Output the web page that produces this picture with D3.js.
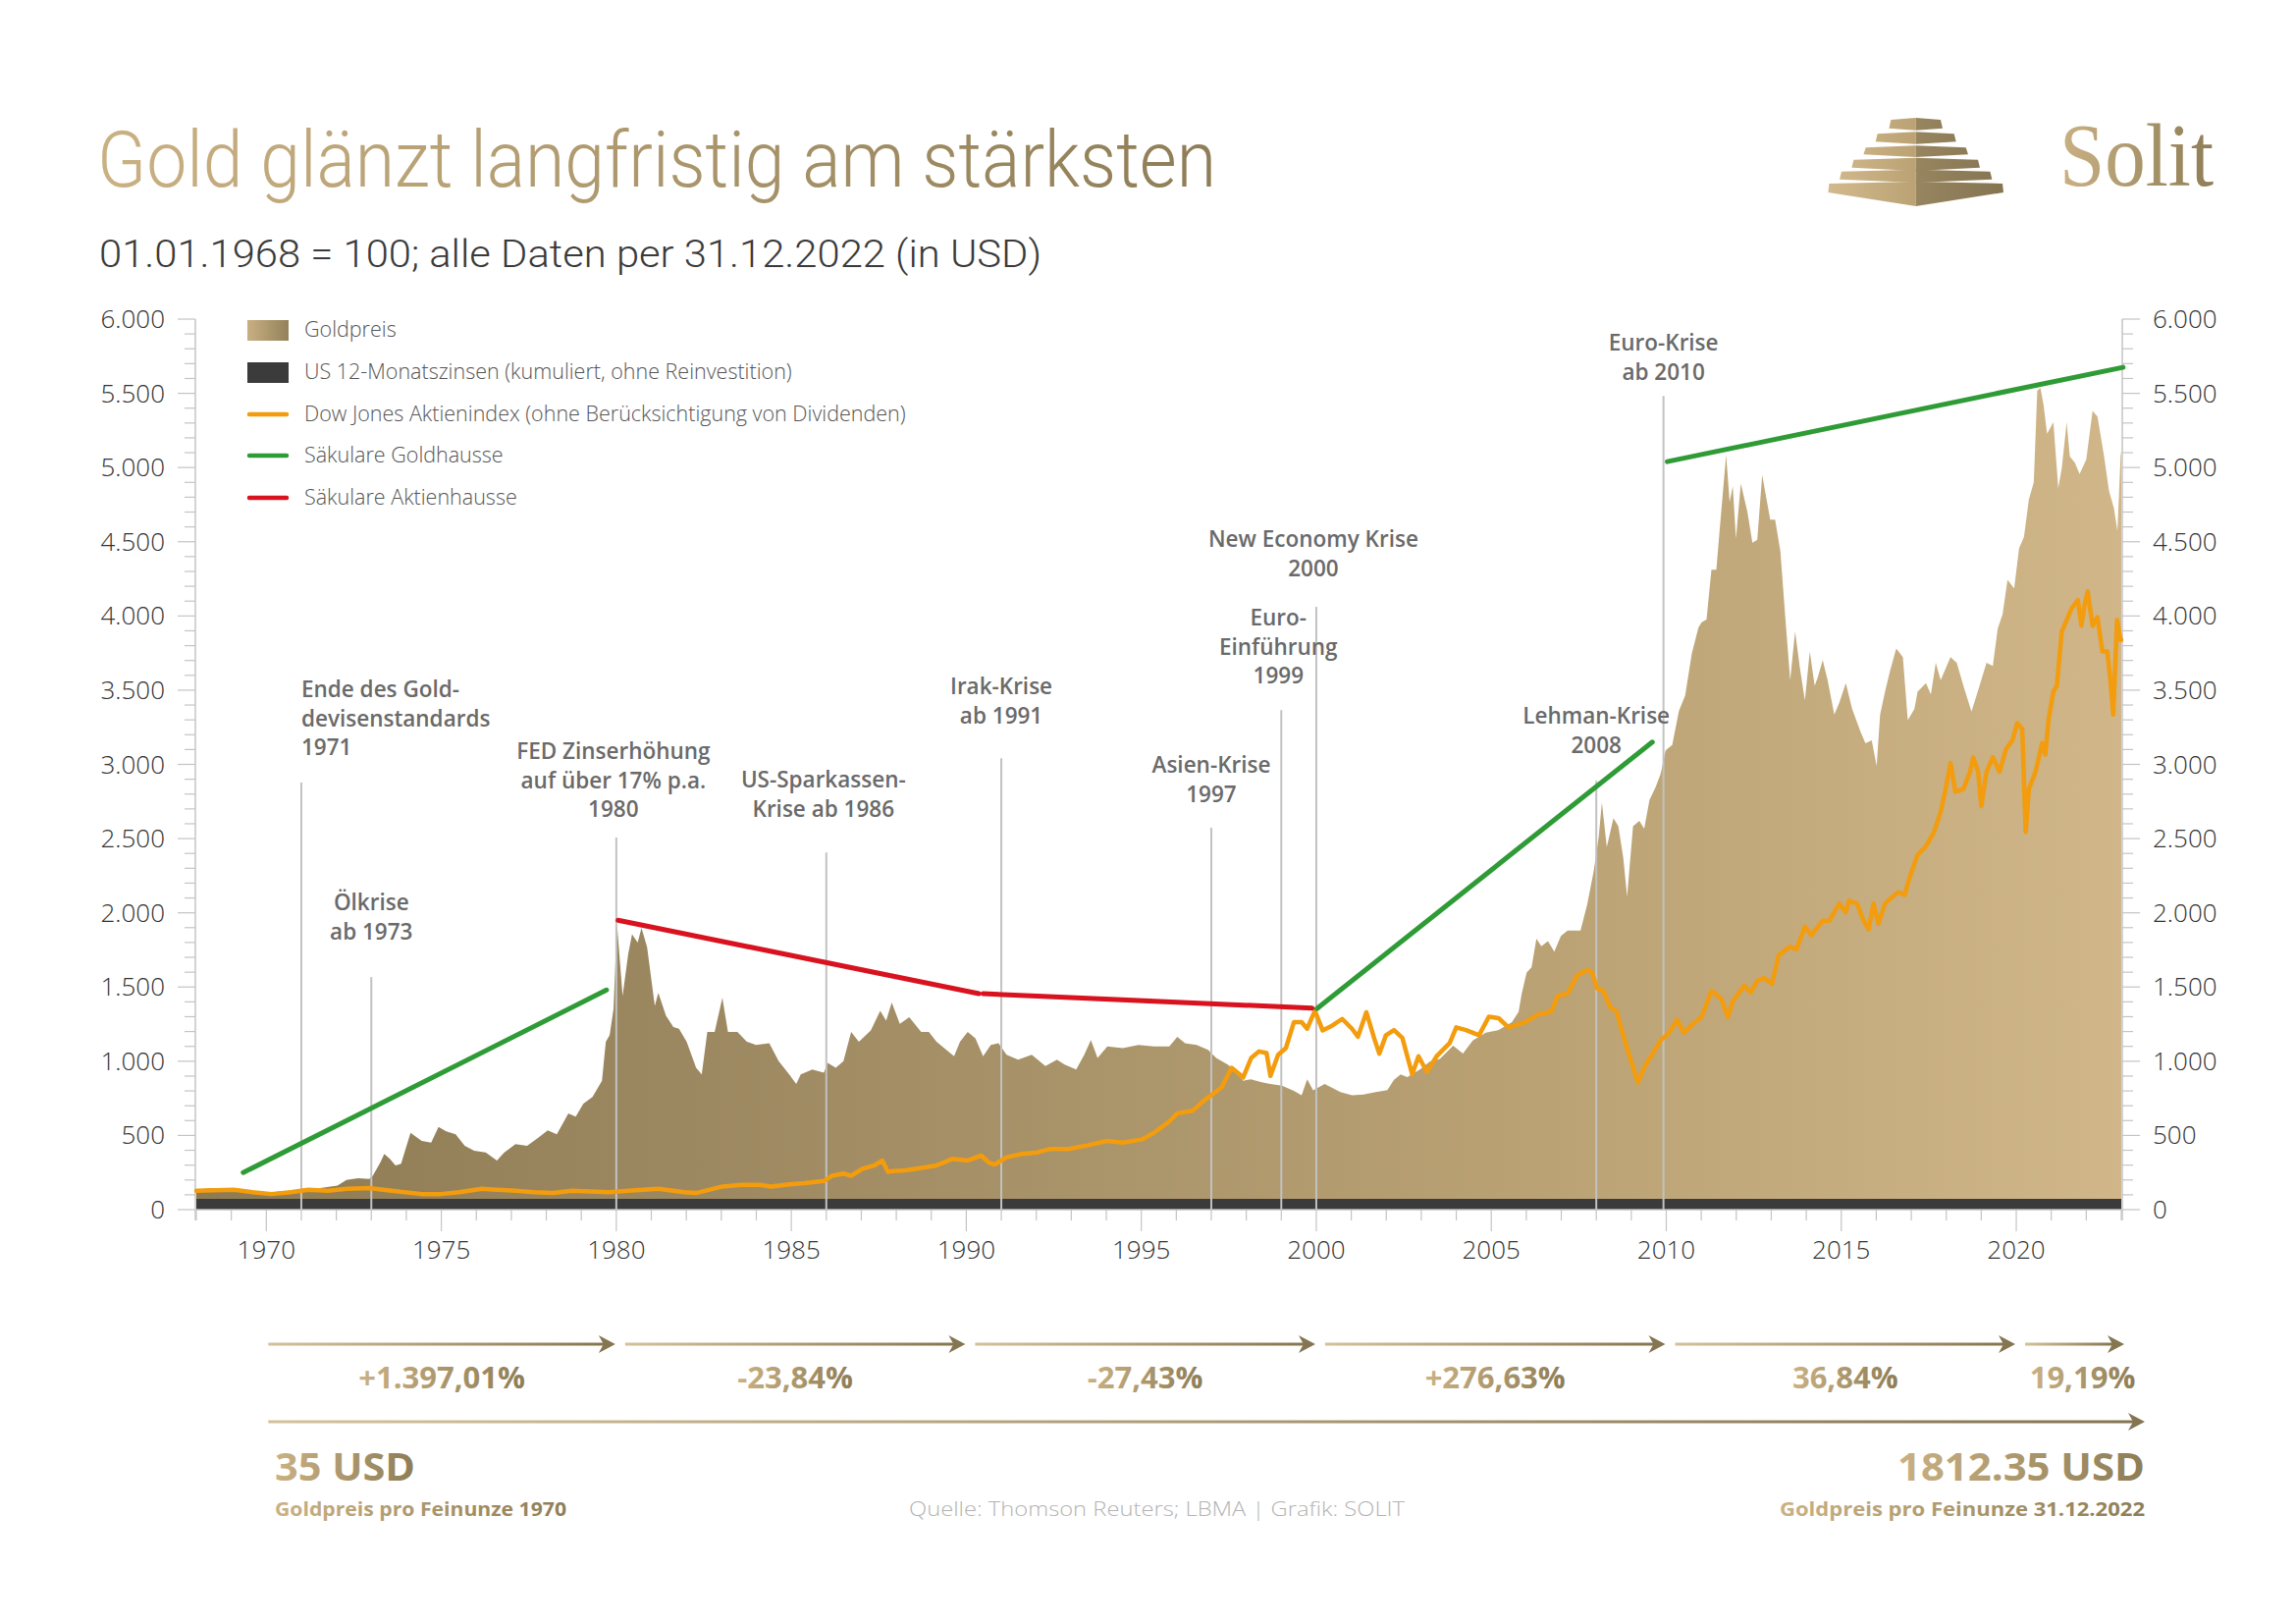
<!DOCTYPE html>
<html><head><meta charset="utf-8">
<script src="https://cdn.jsdelivr.net/npm/d3@7"></script>
<style>body{margin:0;background:#fff}svg{display:block}</style>
</head><body><svg id="c" width="2339" height="1654"></svg>
<script>
// ---------------- DATA ----------------
const goldSeries = [[1968.00,134],[1968.43,145],[1968.94,140],[1969.40,134],[1969.72,123],[1970.15,118],[1970.68,127],[1971.01,140],[1971.54,145],[1972.03,162],[1972.29,200],[1972.62,211],[1972.94,207],[1973.05,232],[1973.26,320],[1973.37,375],[1973.53,342],[1973.69,298],[1973.85,309],[1974.12,518],[1974.44,463],[1974.71,452],[1974.92,557],[1975.14,528],[1975.41,507],[1975.67,430],[1975.94,397],[1976.27,386],[1976.59,331],[1976.80,386],[1977.12,441],[1977.45,430],[1977.77,485],[1978.04,535],[1978.30,507],[1978.63,649],[1978.84,627],[1979.06,715],[1979.32,759],[1979.59,868],[1979.70,1132],[1979.81,1176],[1979.92,1351],[1980.02,1921],[1980.18,1439],[1980.34,1724],[1980.45,1855],[1980.61,1800],[1980.72,1899],[1980.88,1768],[1981.10,1373],[1981.20,1461],[1981.42,1307],[1981.63,1230],[1981.79,1219],[1982.01,1132],[1982.28,956],[1982.44,912],[1982.60,1197],[1982.81,1197],[1983.03,1428],[1983.19,1197],[1983.46,1197],[1983.73,1132],[1983.99,1110],[1984.37,1121],[1984.64,1000],[1984.94,912],[1985.14,847],[1985.27,912],[1985.60,945],[1985.93,923],[1986.04,989],[1986.27,956],[1986.49,1000],[1986.71,1197],[1986.93,1132],[1987.27,1208],[1987.54,1340],[1987.71,1274],[1987.87,1395],[1988.10,1252],[1988.37,1296],[1988.71,1197],[1988.93,1197],[1989.15,1132],[1989.43,1077],[1989.65,1033],[1989.82,1132],[1990.04,1197],[1990.26,1154],[1990.48,1033],[1990.70,1110],[1990.92,1121],[1991.15,1044],[1991.48,1011],[1991.87,1044],[1992.26,967],[1992.59,1011],[1992.81,978],[1993.14,945],[1993.37,1044],[1993.56,1143],[1993.75,1022],[1994.03,1099],[1994.47,1088],[1994.92,1110],[1995.36,1099],[1995.80,1099],[1996.03,1165],[1996.25,1121],[1996.58,1110],[1996.91,1077],[1997.14,1022],[1997.47,978],[1997.69,934],[1997.91,868],[1998.13,879],[1998.47,857],[1998.69,847],[1999.02,835],[1999.36,800],[1999.58,770],[1999.74,879],[1999.91,803],[2000.24,846],[2000.69,792],[2001.02,770],[2001.35,775],[2001.66,790],[2002.03,805],[2002.22,875],[2002.41,911],[2002.60,893],[2002.97,946],[2003.25,999],[2003.53,1016],[2003.91,1104],[2004.19,1051],[2004.47,1139],[2004.84,1192],[2005.21,1210],[2005.59,1263],[2005.78,1333],[2005.87,1456],[2006.01,1597],[2006.15,1633],[2006.29,1826],[2006.43,1774],[2006.62,1809],[2006.80,1738],[2006.99,1844],[2007.18,1880],[2007.55,1880],[2007.74,2056],[2007.93,2285],[2008.07,2514],[2008.16,2743],[2008.30,2443],[2008.49,2637],[2008.63,2584],[2008.77,2373],[2008.88,2109],[2009.05,2584],[2009.23,2619],[2009.37,2566],[2009.52,2761],[2009.70,2849],[2009.84,2937],[2009.98,3095],[2010.17,3130],[2010.36,3359],[2010.54,3465],[2010.73,3747],[2010.92,3923],[2011.01,3958],[2011.15,3976],[2011.29,4311],[2011.43,4311],[2011.53,4593],[2011.62,4839],[2011.71,5086],[2011.81,4768],[2011.90,4874],[2011.99,4522],[2012.13,4892],[2012.32,4698],[2012.46,4494],[2012.60,4514],[2012.74,4950],[2012.97,4649],[2013.11,4649],[2013.26,4436],[2013.40,3992],[2013.54,3568],[2013.68,3896],[2013.82,3645],[2013.96,3432],[2014.10,3761],[2014.24,3529],[2014.33,3587],[2014.47,3703],[2014.61,3568],[2014.80,3336],[2014.94,3413],[2015.13,3548],[2015.31,3374],[2015.55,3220],[2015.69,3143],[2015.87,3162],[2016.01,2989],[2016.11,3336],[2016.25,3490],[2016.39,3626],[2016.57,3780],[2016.76,3722],[2016.90,3297],[2017.09,3374],[2017.18,3490],[2017.42,3548],[2017.56,3471],[2017.70,3684],[2017.84,3568],[2018.12,3722],[2018.30,3684],[2018.49,3529],[2018.72,3355],[2018.95,3529],[2019.15,3684],[2019.33,3664],[2019.47,3915],[2019.61,4012],[2019.75,4243],[2019.94,4186],[2020.08,4456],[2020.22,4533],[2020.36,4784],[2020.50,4900],[2020.60,5517],[2020.69,5537],[2020.78,5421],[2020.88,5228],[2021.06,5305],[2021.20,4861],[2021.30,4996],[2021.44,5305],[2021.53,5074],[2021.67,5035],[2021.81,4957],[2022.00,5054],[2022.18,5382],[2022.32,5343],[2022.51,5074],[2022.65,4842],[2022.79,4726],[2022.89,4572],[2022.98,5074],[2023.04,5112]];

const dowSeries = [[1968.00,127],[1969.07,134],[1969.60,118],[1970.15,105],[1970.70,118],[1971.20,134],[1971.76,127],[1972.30,140],[1972.94,145],[1973.58,127],[1974.44,105],[1974.98,105],[1975.51,118],[1976.16,140],[1976.59,134],[1977.12,127],[1977.66,118],[1978.20,112],[1978.73,127],[1979.27,123],[1979.80,118],[1980.34,127],[1981.20,140],[1981.95,118],[1982.28,112],[1983.03,156],[1983.57,167],[1984.10,167],[1984.42,156],[1984.94,171],[1985.38,178],[1985.93,193],[1986.16,228],[1986.49,243],[1986.71,228],[1987.04,276],[1987.38,298],[1987.60,331],[1987.76,254],[1987.88,260],[1988.26,265],[1988.71,281],[1989.15,298],[1989.60,342],[1990.04,331],[1990.43,364],[1990.65,316],[1990.81,303],[1991.15,353],[1991.59,375],[1992.03,386],[1992.37,408],[1992.92,408],[1993.48,434],[1994.03,463],[1994.47,452],[1995.03,474],[1995.36,518],[1995.80,594],[1996.03,649],[1996.47,667],[1996.80,737],[1997.03,776],[1997.30,825],[1997.58,956],[1997.75,923],[1997.91,890],[1998.14,1022],[1998.36,1066],[1998.58,1055],[1998.69,901],[1998.91,1044],[1999.13,1088],[1999.36,1263],[1999.58,1263],[1999.74,1219],[1999.96,1340],[2000.18,1208],[2000.46,1241],[2000.74,1285],[2001.02,1219],[2001.19,1165],[2001.43,1330],[2001.66,1150],[2001.80,1051],[2001.99,1175],[2002.22,1210],[2002.46,1157],[2002.74,911],[2002.92,1034],[2003.16,928],[2003.44,1034],[2003.81,1122],[2004.00,1228],[2004.28,1210],[2004.65,1175],[2004.93,1300],[2005.21,1290],[2005.49,1228],[2005.96,1263],[2006.34,1316],[2006.71,1333],[2006.90,1439],[2007.18,1456],[2007.46,1580],[2007.74,1615],[2007.88,1597],[2008.02,1492],[2008.20,1474],[2008.39,1368],[2008.58,1333],[2008.77,1175],[2008.95,1034],[2009.19,857],[2009.42,981],[2009.61,1051],[2009.84,1140],[2010.08,1192],[2010.31,1280],[2010.50,1192],[2010.73,1245],[2011.01,1298],[2011.29,1474],[2011.57,1421],[2011.76,1298],[2011.90,1404],[2012.23,1509],[2012.41,1463],[2012.60,1541],[2012.79,1560],[2013.02,1521],[2013.21,1714],[2013.54,1772],[2013.72,1753],[2013.96,1907],[2014.14,1849],[2014.47,1946],[2014.66,1946],[2014.94,2062],[2015.13,2004],[2015.22,2081],[2015.45,2062],[2015.64,1946],[2015.78,1888],[2015.92,2062],[2016.06,1927],[2016.25,2062],[2016.43,2101],[2016.62,2139],[2016.81,2120],[2016.95,2236],[2017.18,2390],[2017.42,2448],[2017.65,2545],[2017.84,2680],[2017.98,2834],[2018.12,3008],[2018.26,2815],[2018.49,2834],[2018.68,2950],[2018.77,3047],[2018.91,2950],[2019.00,2718],[2019.15,2950],[2019.33,3047],[2019.52,2950],[2019.71,3104],[2019.89,3162],[2020.03,3278],[2020.17,3239],[2020.27,2545],[2020.36,2834],[2020.55,2950],[2020.74,3143],[2020.83,3066],[2020.92,3297],[2021.06,3490],[2021.16,3529],[2021.30,3896],[2021.58,4050],[2021.76,4108],[2021.86,3934],[2021.95,4070],[2022.04,4166],[2022.18,3934],[2022.32,3992],[2022.46,3761],[2022.60,3761],[2022.69,3568],[2022.77,3336],[2022.88,3973],[2022.98,3838],[2023.04,3838]];

const zinsSeries = [[1968.0,72],[2023.0,72]];

const goldHausse = [
  [[1969.34,250],[1979.72,1480]],
  [[2000.02,1355],[2009.60,3150]],
  [[2010.03,5040],[2023.05,5675]]
];
const aktienHausse = [
  [[1980.05,1950],[1990.36,1455]],
  [[1990.48,1455],[1999.88,1358]]
];

const eventYears = [1971, 1973, 1980, 1986, 1991, 1997, 1999, 2000, 2008, 2009.92];
const eventLineTops = [2877, 1567, 2507, 2407, 3042, 2573, 3366, 4061, 2890, 5483];
const eventTexts = [
  ["Ende des Gold-","devisenstandards","1971"],
  ["Ölkrise","ab 1973"],
  ["FED Zinserhöhung","auf über 17% p.a.","1980"],
  ["US-Sparkassen-","Krise ab 1986"],
  ["Irak-Krise","ab 1991"],
  ["Asien-Krise","1997"],
  ["Euro-","Einführung","1999"],
  ["New Economy Krise","2000"],
  ["Lehman-Krise","2008"],
  ["Euro-Krise","ab 2010"]
];

const yTickValues = d3.range(0, 6001, 500);
const yTickLabels = ["0","500","1.000","1.500","2.000","2.500","3.000","3.500","4.000","4.500","5.000","5.500","6.000"];
const xLabelYears = [1970,1975,1980,1985,1990,1995,2000,2005,2010,2015,2020];

const periodStarts = [1970,1980,1990,2000,2010,2020];
const periodEnds   = [1980,1990,2000,2010,2020,2023];
const periodReturns = ["+1.397,01%","-23,84%","-27,43%","+276,63%","36,84%","19,19%"];

const legendItems = [
  "Goldpreis",
  "US 12-Monatszinsen (kumuliert, ohne Reinvestition)",
  "Dow Jones Aktienindex (ohne Berücksichtigung von Dividenden)",
  "Säkulare Goldhausse",
  "Säkulare Aktienhausse"
];

// ---------------- LAYOUT ----------------
const eventLabelBase = [710, 927, 773, 802, 707, 787, 637, 557, 737, 357];
const eventAnchor = ["start","middle","middle","middle","middle","middle","middle","middle","middle","middle"];
const eventShift = [0, 0, -3, -3, 0, 0, -3, -3, 0, 0];

const svg = d3.select("#c");
const x = d3.scaleLinear().domain([1968, 2023]).range([200, 2161]);
const y = d3.scaleLinear().domain([0, 6000]).range([1232, 325]);

const defs = svg.append("defs");
function grad(id, stops, attrs) {
  const g = defs.append("linearGradient").attr("id", id);
  Object.entries(attrs || {x1:0,y1:0,x2:1,y2:0}).forEach(([k,v]) => g.attr(k, v));
  stops.forEach(([o,c]) => g.append("stop").attr("offset", o).attr("stop-color", c));
}
grad("areaGrad", [[0,"#8d7b54"],[0.35,"#a28d65"],[0.7,"#baa274"],[1,"#d0b688"]],
     {gradientUnits:"userSpaceOnUse", x1:200, y1:0, x2:2161, y2:0});
grad("textGold", [[0,"#cab183"],[1,"#8e7d56"]]);
grad("swatchGold", [[0,"#c9b083"],[1,"#93815a"]]);
grad("arrowGrad", [[0,"#d3c19b"],[1,"#857550"]]);
grad("logoL", [[0,"#d2ba8e"],[1,"#bba274"]], {gradientUnits:"userSpaceOnUse", x1:1862, y1:0, x2:1952, y2:0});
grad("logoR", [[0,"#978560"],[1,"#857450"]], {gradientUnits:"userSpaceOnUse", x1:1952, y1:0, x2:2042, y2:0});

// ---------------- TITLE ----------------
svg.append("text").attr("x", 99).attr("y", 190)
  .attr("font-family", "Roboto, 'Open Sans', sans-serif").attr("font-weight", 300)
  .attr("font-size", 80).attr("fill", "url(#textGold)")
  .attr("textLength", 1140).attr("lengthAdjust", "spacingAndGlyphs")
  .text("Gold glänzt langfristig am stärksten");
svg.append("text").attr("x", 101).attr("y", 272)
  .attr("font-family", "Roboto, 'Open Sans', sans-serif").attr("font-weight", 300)
  .attr("font-size", 38).attr("fill", "#3a3a3a")
  .attr("textLength", 960).attr("lengthAdjust", "spacingAndGlyphs")
  .text("01.01.1968 = 100; alle Daten per 31.12.2022 (in USD)");

// ---------------- LOGO ----------------
const cx = 1951.7;
const tiers = [
  [120, 25.3, 130.7, 27.3, 132.7],
  [134.3, 39, 144.3, 41, 146.7],
  [148.3, 51, 157.3, 53.3, 160],
  [160.7, 63.3, 170.7, 65.3, 174],
  [172.7, 75.7, 182.7, 77.7, 186],
  [185, 88.3, 196, 89.3, 210]
];
const logo = svg.append("g");
tiers.forEach(([yt, wt, yb, wb, yc]) => {
  logo.append("polygon").attr("fill", "url(#logoL)")
    .attr("points", [[cx-wt, yt+2],[cx, yt],[cx, yc],[cx-wb, yb]].map(p=>p.join(",")).join(" "));
  logo.append("polygon").attr("fill", "url(#logoR)")
    .attr("points", [[cx, yt],[cx+wt, yt+2],[cx+wb, yb],[cx, yc]].map(p=>p.join(",")).join(" "));
});
svg.append("text").attr("x", 2098).attr("y", 189)
  .attr("font-family", "'Liberation Serif', 'DejaVu Serif', serif")
  .attr("font-size", 90).attr("fill", "url(#textGold)")
  .attr("textLength", 157).attr("lengthAdjust", "spacingAndGlyphs")
  .text("Solit");

// ---------------- CHART ----------------
const plot = svg.append("g");

plot.append("path").datum(goldSeries)
  .attr("fill", "url(#areaGrad)")
  .attr("d", d3.area().x(d => x(Math.min(d[0], 2023))).y0(y(0)).y1(d => y(d[1])));

plot.append("path").datum(zinsSeries)
  .attr("fill", "#3b3b3b")
  .attr("d", d3.area().x(d => x(d[0])).y0(y(0)).y1(d => y(d[1])));

const axisColor = "#c4c4c4";
plot.append("line").attr("x1", x(1968)).attr("x2", x(2023)).attr("y1", y(0)).attr("y2", y(0))
  .attr("stroke", axisColor).attr("stroke-width", 1.5);
const years = d3.range(1968, 2024);
plot.selectAll(".xt").data(years).join("line")
  .attr("x1", d => x(d)).attr("x2", d => x(d))
  .attr("y1", y(0)).attr("y2", d => y(0) + (d % 5 === 0 ? 22 : 11))
  .attr("stroke", axisColor).attr("stroke-width", 1.2);
plot.selectAll(".xl").data(xLabelYears).join("text")
  .attr("x", d => x(d)).attr("y", 1282).attr("text-anchor", "middle")
  .attr("font-family", "'Open Sans', sans-serif").attr("font-weight", 300)
  .attr("font-size", 26).attr("fill", "#333").text(d => d);

const minor = d3.range(0, 6001, 100);
[["left", x(1968) - 1], ["right", x(2023) + 1]].forEach(([side, ax]) => {
  const dir = side === "left" ? -1 : 1;
  plot.append("line").attr("x1", ax).attr("x2", ax).attr("y1", y(6000)).attr("y2", y(0) + 11)
    .attr("stroke", axisColor).attr("stroke-width", 1.5);
  plot.selectAll(".yt" + side).data(minor).join("line")
    .attr("x1", ax).attr("x2", d => ax + dir * (d % 500 === 0 ? 18 : 11))
    .attr("y1", d => y(d)).attr("y2", d => y(d))
    .attr("stroke", axisColor).attr("stroke-width", 1.2);
  plot.selectAll(".yl" + side).data(yTickValues).join("text")
    .attr("x", side === "left" ? 168 : 2193)
    .attr("y", d => y(d) + 9)
    .attr("text-anchor", side === "left" ? "end" : "start")
    .attr("font-family", "'Open Sans', sans-serif").attr("font-weight", 300)
    .attr("font-size", 26).attr("fill", "#333")
    .text((d, i) => yTickLabels[i]);
});

plot.selectAll(".ev").data(eventYears).join("line")
  .attr("x1", d => x(d)).attr("x2", d => x(d))
  .attr("y1", y(0)).attr("y2", (d, i) => y(eventLineTops[i]))
  .attr("stroke", "#c2c2c2").attr("stroke-width", 2);

eventYears.forEach((yr, i) => {
  const t = plot.append("text")
    .attr("font-family", "'Open Sans', sans-serif").attr("font-weight", 600)
    .attr("font-size", 22.5).attr("fill", "#6a6a6a")
    .attr("text-anchor", eventAnchor[i]);
  eventTexts[i].forEach((line, j) => {
    t.append("tspan").attr("x", x(yr) + eventShift[i]).attr("y", eventLabelBase[i] + j * 29.5).text(line);
  });
});

plot.append("path").datum(dowSeries)
  .attr("fill", "none").attr("stroke", "#f39c0d").attr("stroke-width", 4.5)
  .attr("stroke-linejoin", "round").attr("stroke-linecap", "round")
  .attr("d", d3.line().x(d => x(Math.min(d[0], 2023))).y(d => y(d[1])));

const tl = d3.line().x(d => x(d[0])).y(d => y(d[1]));
plot.selectAll(".gh").data(goldHausse).join("path")
  .attr("fill", "none").attr("stroke", "#2f9b36").attr("stroke-width", 5)
  .attr("stroke-linecap", "round").attr("d", tl);
plot.selectAll(".ah").data(aktienHausse).join("path")
  .attr("fill", "none").attr("stroke", "#d8131f").attr("stroke-width", 5)
  .attr("stroke-linecap", "round").attr("d", tl);

// ---------------- LEGEND ----------------
const legY = [336, 379, 422, 464, 507];
const leg = svg.append("g");
leg.append("rect").attr("x", 252).attr("y", legY[0] - 10).attr("width", 42).attr("height", 21).attr("fill", "url(#swatchGold)");
leg.append("rect").attr("x", 252).attr("y", legY[1] - 10).attr("width", 42).attr("height", 21).attr("fill", "#3b3b3b");
[["#f39c0d", 2], ["#2f9b36", 3], ["#d8131f", 4]].forEach(([c, i]) => {
  leg.append("line").attr("x1", 254).attr("x2", 292).attr("y1", legY[i]).attr("y2", legY[i])
    .attr("stroke", c).attr("stroke-width", 4.5).attr("stroke-linecap", "round");
});
leg.selectAll(".lt").data(legendItems).join("text")
  .attr("x", 310).attr("y", (d, i) => legY[i] + 7)
  .attr("font-family", "'Open Sans', sans-serif").attr("font-weight", 300)
  .attr("font-size", 21.5).attr("fill", "#555").text(d => d);

// ---------------- BOTTOM ----------------
const bot = svg.append("g");
function arrow(x0, x1, yy) {
  bot.append("rect").attr("x", x0).attr("y", yy - 1.5).attr("width", x1 - x0 - 10).attr("height", 3)
    .attr("fill", "url(#arrowGrad)");
  bot.append("path").attr("fill", "#857550")
    .attr("d", `M${x1},${yy} L${x1-17},${yy-9} L${x1-12},${yy} L${x1-17},${yy+9} Z`);
}
const labelShift = [0,0,0,0,0,8];
periodStarts.forEach((s, i) => {
  const x0 = x(s) + (i === 0 ? 2 : 9);
  const x1 = i === periodStarts.length - 1 ? x(periodEnds[i]) + 3 : x(periodEnds[i]) - 1;
  arrow(x0, x1, 1369);
  bot.append("text").attr("x", (x0 + x1) / 2 + labelShift[i]).attr("y", 1414)
    .attr("text-anchor", "middle")
    .attr("font-family", "'Open Sans', sans-serif").attr("font-weight", 700)
    .attr("font-size", 31).attr("fill", "url(#textGold)").text(periodReturns[i]);
});
arrow(x(1970) + 2, 2185, 1448);

bot.append("text").attr("x", 280).attr("y", 1508)
  .attr("font-family", "'Open Sans', sans-serif").attr("font-weight", 700)
  .attr("font-size", 40).attr("fill", "url(#textGold)")
  .attr("textLength", 143).attr("lengthAdjust", "spacingAndGlyphs").text("35 USD");
bot.append("text").attr("x", 2185).attr("y", 1508).attr("text-anchor", "end")
  .attr("font-family", "'Open Sans', sans-serif").attr("font-weight", 700)
  .attr("font-size", 40).attr("fill", "url(#textGold)")
  .attr("textLength", 252).attr("lengthAdjust", "spacingAndGlyphs").text("1812.35 USD");
bot.append("text").attr("x", 280).attr("y", 1544)
  .attr("font-family", "'Open Sans', sans-serif").attr("font-weight", 700)
  .attr("font-size", 20).attr("fill", "url(#textGold)")
  .attr("textLength", 297).attr("lengthAdjust", "spacingAndGlyphs").text("Goldpreis pro Feinunze 1970");
bot.append("text").attr("x", 2185).attr("y", 1544).attr("text-anchor", "end")
  .attr("font-family", "'Open Sans', sans-serif").attr("font-weight", 700)
  .attr("font-size", 20).attr("fill", "url(#textGold)")
  .attr("textLength", 372).attr("lengthAdjust", "spacingAndGlyphs").text("Goldpreis pro Feinunze 31.12.2022");
bot.append("text").attr("x", 926).attr("y", 1544)
  .attr("font-family", "'Open Sans', sans-serif").attr("font-weight", 300)
  .attr("font-size", 21).attr("fill", "#b3b3b3")
  .attr("textLength", 505).attr("lengthAdjust", "spacingAndGlyphs")
  .text("Quelle: Thomson Reuters; LBMA  |  Grafik: SOLIT");
</script></body></html>
